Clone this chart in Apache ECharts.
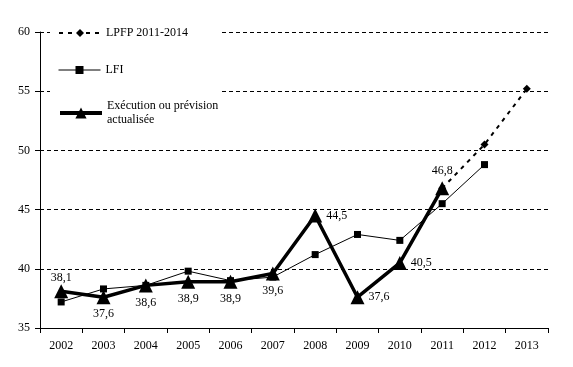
<!DOCTYPE html>
<html><head><meta charset="utf-8">
<script src="https://cdn.jsdelivr.net/npm/echarts@6/dist/echarts.min.js"></script>
<style>html,body{margin:0;padding:0;background:#fff}#c{width:573px;height:367px}</style>
</head><body><div id="c"></div>
<script>
var years = ['2002','2003','2004','2005','2006','2007','2008','2009','2010','2011','2012','2013'];
var lpfp = [null,null,null,null,null,null,null,null,null,46.8,50.5,55.2];
var lfi = [37.2,38.3,38.6,39.8,39.0,39.3,41.2,42.9,42.4,45.5,48.8,null];
var exec = [38.1,37.6,38.6,38.9,38.9,39.6,44.5,37.6,40.5,46.8,null,null];
var execLabelPos = ['top','bottom','bottom','bottom','bottom','bottom','right','right','right','top'];
var yTicks = {min:35, max:60, interval:5};
var F = 'Liberation Serif, Times New Roman, serif';
var chart = echarts.init(document.getElementById('c'));
chart.setOption({
  animation:false,
  backgroundColor:'#fff',
  grid:{left:40,right:25,top:32,bottom:39},
  xAxis:{type:'category',data:years,boundaryGap:true,
    axisLine:{lineStyle:{color:'#000',width:1}},
    axisTick:{show:true,length:5,lineStyle:{color:'#000'}},
    axisLabel:{color:'#000',fontFamily:F,fontSize:12,margin:12},
    splitLine:{show:false}},
  yAxis:{type:'value',min:yTicks.min,max:yTicks.max,interval:yTicks.interval,
    axisLine:{show:true,lineStyle:{color:'#000',width:1}},
    axisTick:{show:true,length:5,lineStyle:{color:'#000'}},
    axisLabel:{color:'#000',fontFamily:F,fontSize:12,margin:10},
    splitLine:{show:true,lineStyle:{color:'#000',type:[4,3],width:1}}},
  graphic:[{type:'rect',shape:{x:50,y:22,width:172,height:106},style:{fill:'#fff'},z:1}],
  legend:[
    {data:[{name:'LPFP 2011-2014',lineStyle:{width:2}}],left:53,top:22,itemWidth:42,itemHeight:10,
     textStyle:{fontFamily:F,fontSize:12,color:'#000'},z:5},
    {data:[{name:'LFI',lineStyle:{width:1}}],left:53,top:59,itemWidth:42,itemHeight:10,
     textStyle:{fontFamily:F,fontSize:12,color:'#000'},z:5},
    {data:[{name:'Exécution ou prévision\nactualisée',lineStyle:{width:4}}],left:53,top:87,itemWidth:42,itemHeight:14,
     textStyle:{fontFamily:F,fontSize:12,color:'#000',lineHeight:14,padding:[14,0,0,0]},z:5}
  ],
  series:[
    {name:'LPFP 2011-2014',type:'line',data:lpfp,symbol:'diamond',symbolSize:8,
     lineStyle:{color:'#000',width:2,type:[4,5]},itemStyle:{color:'#000'},z:2},
    {name:'LFI',type:'line',data:lfi,symbol:'rect',symbolSize:7,
     lineStyle:{color:'#000',width:1},itemStyle:{color:'#000'},z:3},
    {name:'Exécution ou prévision\nactualisée',type:'line',data:exec.map(function(v,i){
        var o={value:v,label:{position:execLabelPos[i]}};
        if(i===0){o.label.distance=0;}
        return o;}),
     symbol:'triangle',symbolSize:14,
     lineStyle:{color:'#000',width:3.5},itemStyle:{color:'#000'},z:4,
     label:{show:true,fontFamily:F,fontSize:12,color:'#000',distance:4,
       formatter:function(p){return p.value==null?'':String(p.value.toFixed(1)).replace('.',',');}}}
  ]
});
</script></body></html>
